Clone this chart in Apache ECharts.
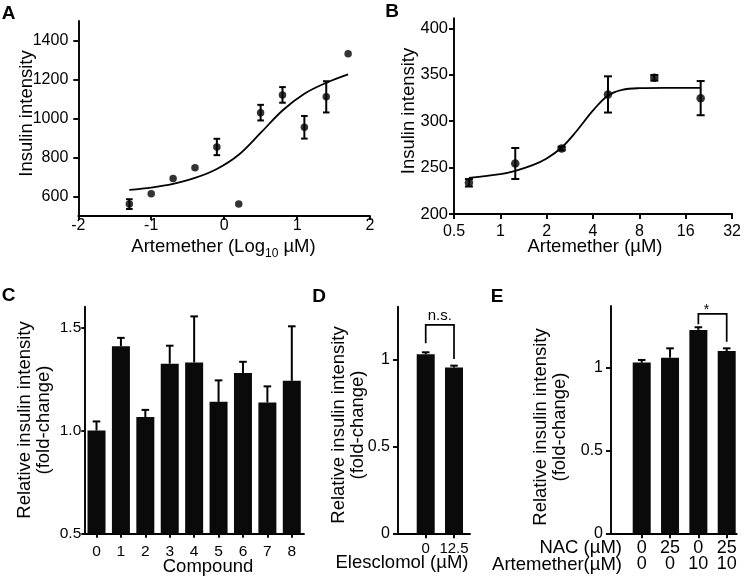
<!DOCTYPE html>
<html><head><meta charset="utf-8">
<script src="https://cdn.jsdelivr.net/npm/echarts@6/dist/echarts.min.js"></script>
<style>html,body{margin:0;padding:0;background:#fff}#c{width:744px;height:580px}</style>
</head><body><div id="c"></div>
<script>
// ---------------- data ----------------
// Panel A
const aX = [-1.3, -1.0, -0.7, -0.4, -0.1, 0.2, 0.5, 0.8, 1.1, 1.4, 1.7];
const aY = [561, 614, 692, 747, 854, 562, 1030, 1121, 955, 1111, 1332];
const aErr = [25, 0, 0, 0, 42, 0, 40, 40, 58, 80, 0];
const aFitX = [-1.3, -1.0, -0.7, -0.4, -0.1, 0.2, 0.5, 0.8, 1.1, 1.4, 1.7];
const aFitY = [634, 646, 665, 695, 741, 814, 926, 1041, 1127, 1183, 1226];
const aYTicks = [600, 800, 1000, 1200, 1400];
// Panel B
const bX = [0.625, 1.25, 2.5, 5, 10, 20];
const bY = [233.6, 254.4, 270.5, 328.8, 346.7, 324.8];
const bErr = [4, 16.7, 2, 19.5, 3, 18.4];
const bFitX = [0.625, 1, 1.25, 1.62, 2, 2.5, 3.09, 4, 5, 6.18, 8, 11.7, 20];
const bFitY = [239, 242.9, 246.5, 252.6, 259.8, 271.6, 288.3, 311.6, 327.7, 333.8, 335.5, 335.8, 335.8];
const bXTicks = [0.5, 1, 2, 4, 8, 16, 32];
const bYTicks = [200, 250, 300, 350, 400];
// Panel C
const cCats = ['0', '1', '2', '3', '4', '5', '6', '7', '8'];
const cVal = [1.00, 1.408, 1.065, 1.324, 1.33, 1.139, 1.279, 1.136, 1.241];
const cErr = [0.044, 0.041, 0.035, 0.087, 0.223, 0.104, 0.054, 0.078, 0.264];
const cYTicks = [0.5, 1.0, 1.5];
// Panel D
const dCats = ['0', '12.5'];
const dVal = [1.033, 0.956];
const dErr = [0.011, 0.011];
const dBracket = [0, 1, 1.096, 1.202, 1.006];
const dBracketLabel = 'n.s.';
// Panel E
const eNac = ['0', '25', '0', '25'];
const eArt = ['0', '0', '10', '10'];
const eVal = [1.028, 1.058, 1.225, 1.098];
const eErr = [0.016, 0.056, 0.016, 0.016];
const eBracket = [2, 3, 1.259, 1.321, 1.154];
const eBracketLabel = '*';
const yTicks01 = [0, 0.5, 1];

// ---------------- styling / helpers ----------------
const FONT = '"Liberation Sans", Arial, Helvetica, sans-serif';
const INK = '#000';
const LW = 1.9;

function axisBase(extra) {
  const base = {
    axisLine: { show: true, onZero: false, lineStyle: { color: INK, width: LW } },
    axisTick: { show: true, inside: false, length: 5, lineStyle: { color: INK, width: LW } },
    splitLine: { show: false },
    axisLabel: { color: INK, fontSize: 16, fontFamily: FONT }
  };
  for (const k in extra) {
    if (typeof extra[k] === 'object' && !Array.isArray(extra[k]) && base[k]) {
      base[k] = Object.assign({}, base[k], extra[k]);
    } else base[k] = extra[k];
  }
  return base;
}

function errBoth(capHalf) {
  return function (params, api) {
    const x = api.value(0), y = api.value(1), e = api.value(2);
    const p1 = api.coord([x, y + e]), p2 = api.coord([x, y - e]);
    const st = { stroke: INK, lineWidth: 2 };
    return { type: 'group', children: [
      { type: 'line', shape: { x1: p1[0], y1: p1[1], x2: p2[0], y2: p2[1] }, style: st },
      { type: 'line', shape: { x1: p1[0] - capHalf, y1: p1[1], x2: p1[0] + capHalf, y2: p1[1] }, style: st },
      { type: 'line', shape: { x1: p2[0] - capHalf, y1: p2[1], x2: p2[0] + capHalf, y2: p2[1] }, style: st }
    ] };
  };
}
function errUp(capHalf) {
  return function (params, api) {
    const x = api.value(0), y = api.value(1), e = api.value(2);
    const p1 = api.coord([x, y + e]), p2 = api.coord([x, y]);
    const st = { stroke: INK, lineWidth: 2 };
    return { type: 'group', children: [
      { type: 'line', shape: { x1: p1[0], y1: p1[1], x2: p2[0], y2: p2[1] }, style: st },
      { type: 'line', shape: { x1: p1[0] - capHalf, y1: p1[1], x2: p1[0] + capHalf, y2: p1[1] }, style: st }
    ] };
  };
}
function bracket(label, fontSize, dx, dy) {
  return function (params, api) {
    const x1 = api.value(0), x2 = api.value(1), yl = api.value(2), yt = api.value(3), yr = api.value(4);
    const a = api.coord([x1, yl]), b = api.coord([x1, yt]), c = api.coord([x2, yt]), d = api.coord([x2, yr]);
    return { type: 'group', children: [
      { type: 'polyline', shape: { points: [a, b, c, d] }, style: { stroke: INK, fill: null, lineWidth: 1.7 } },
      { type: 'text', x: (b[0] + c[0]) / 2 + dx, y: b[1] + dy,
        style: { text: label, fontSize: fontSize, fontFamily: FONT, fill: INK, align: 'center', verticalAlign: 'middle' } }
    ] };
  };
}
function txt(text, x, y, opts) {
  return Object.assign({ type: 'text', x: x, y: y, silent: true,
    style: Object.assign({ text: text, fontSize: 18.5, fontFamily: FONT, fill: INK, align: 'center', verticalAlign: 'middle' }, (opts && opts.style) || {}) },
    opts && opts.rotation ? { rotation: opts.rotation } : {});
}
const R90 = Math.PI / 2;
const plain = v => String(+(+v).toPrecision(6));

const option = {
  backgroundColor: '#fff',
  animation: false,
  grid: [
    { left: 78.3, top: 21, width: 291.7, height: 195 },
    { left: 454, top: 18.3, width: 280.3, height: 195.7 },
    { left: 84.3, top: 306.7, width: 219.7, height: 227 },
    { left: 398, top: 306.7, width: 72, height: 226.6 },
    { left: 611, top: 306, width: 125.7, height: 227.3 }
  ],
  xAxis: [
    axisBase({ gridIndex: 0, type: 'value', min: -2, max: 2, interval: 1,
      axisTick: { length: 4 }, axisLabel: { margin: 2, formatter: plain } }),
    axisBase({ gridIndex: 1, type: 'log', logBase: 2, min: 0.5, max: 32,
      axisTick: { customValues: bXTicks, length: 5 },
      axisLabel: { customValues: bXTicks, margin: 10, formatter: plain } }),
    axisBase({ gridIndex: 2, type: 'category', data: cCats,
      axisTick: { alignWithLabel: true, length: 4 }, axisLabel: { margin: 10, fontSize: 15.5 } }),
    axisBase({ gridIndex: 3, type: 'value', min: -0.979, max: 1.565,
      axisTick: { customValues: [0, 1], length: 5 },
      axisLabel: { customValues: [0, 1], margin: 8, fontSize: 15, formatter: v => dCats[Math.round(v)] } }),
    axisBase({ gridIndex: 4, type: 'value', min: -1.084, max: 3.353,
      axisTick: { customValues: [0, 1, 2, 3], length: 5 },
      axisLabel: { customValues: [0, 1, 2, 3], margin: 6, fontSize: 18, lineHeight: 16.5,
        formatter: v => eNac[Math.round(v)] + '\n' + eArt[Math.round(v)] } })
  ],
  yAxis: [
    axisBase({ gridIndex: 0, type: 'value', min: 500, max: 1500,
      axisTick: { customValues: aYTicks, length: 5 },
      axisLabel: { customValues: aYTicks, margin: 10, formatter: plain } }),
    axisBase({ gridIndex: 1, type: 'value', min: 200, max: 410.8,
      axisTick: { customValues: bYTicks, length: 5 },
      axisLabel: { customValues: bYTicks, margin: 6, fontSize: 16.5, formatter: plain } }),
    axisBase({ gridIndex: 2, type: 'value', min: 0.5, max: 1.6,
      axisTick: { customValues: cYTicks, length: 3 },
      axisLabel: { customValues: cYTicks, margin: 3, fontSize: 15.5, formatter: v => (+v).toFixed(1) } }),
    axisBase({ gridIndex: 3, type: 'value', min: 0, max: 1.307,
      axisTick: { customValues: yTicks01, length: 5 },
      axisLabel: { customValues: yTicks01, margin: 8, formatter: plain } }),
    axisBase({ gridIndex: 4, type: 'value', min: 0, max: 1.369,
      axisTick: { customValues: yTicks01, length: 5 },
      axisLabel: { customValues: yTicks01, margin: 8, formatter: plain } })
  ],
  series: [
    // A
    { type: 'line', xAxisIndex: 0, yAxisIndex: 0, smooth: 0.35, showSymbol: false, symbol: 'none',
      lineStyle: { color: INK, width: 1.8 }, data: aFitX.map((x, i) => [x, aFitY[i]]), z: 2 },
    { type: 'custom', xAxisIndex: 0, yAxisIndex: 0, renderItem: errBoth(3.3), encode: { x: 0, y: 1 },
      data: aX.map((x, i) => [x, aY[i], aErr[i]]).filter(d => d[2] > 0), z: 3 },
    { type: 'scatter', xAxisIndex: 0, yAxisIndex: 0, symbol: 'circle', symbolSize: 7.5,
      itemStyle: { color: INK }, data: aX.map((x, i) => [x, aY[i]]), z: 4 },
    // B
    { type: 'line', xAxisIndex: 1, yAxisIndex: 1, smooth: 0.35, showSymbol: false, symbol: 'none',
      lineStyle: { color: INK, width: 1.8 }, data: bFitX.map((x, i) => [x, bFitY[i]]), z: 2 },
    { type: 'custom', xAxisIndex: 1, yAxisIndex: 1, renderItem: errBoth(4), encode: { x: 0, y: 1 },
      data: bX.map((x, i) => [x, bY[i], bErr[i]]), z: 3 },
    { type: 'scatter', xAxisIndex: 1, yAxisIndex: 1, symbol: 'circle', symbolSize: 8.5,
      itemStyle: { color: INK }, data: bX.map((x, i) => [x, bY[i]]), z: 4 },
    // C
    { type: 'bar', xAxisIndex: 2, yAxisIndex: 2, barWidth: 18, itemStyle: { color: '#0a0a0a' }, data: cVal, z: 2 },
    { type: 'custom', xAxisIndex: 2, yAxisIndex: 2, renderItem: errUp(3.8), encode: { x: 0, y: 1 },
      data: cVal.map((v, i) => [i, v, cErr[i]]), z: 3 },
    // D
    { type: 'bar', xAxisIndex: 3, yAxisIndex: 3, barWidth: 18, itemStyle: { color: '#0a0a0a' },
      data: dVal.map((v, i) => [i, v]), z: 2 },
    { type: 'custom', xAxisIndex: 3, yAxisIndex: 3, renderItem: errUp(3.8), encode: { x: 0, y: 1 },
      data: dVal.map((v, i) => [i, v, dErr[i]]), z: 3 },
    { type: 'custom', xAxisIndex: 3, yAxisIndex: 3, renderItem: bracket(dBracketLabel, 15, 0, -9),
      encode: { x: 0, y: 3 }, data: [dBracket], z: 3 },
    // E
    { type: 'bar', xAxisIndex: 4, yAxisIndex: 4, barWidth: 18, itemStyle: { color: '#0a0a0a' },
      data: eVal.map((v, i) => [i, v]), z: 2 },
    { type: 'custom', xAxisIndex: 4, yAxisIndex: 4, renderItem: errUp(3.8), encode: { x: 0, y: 1 },
      data: eVal.map((v, i) => [i, v, eErr[i]]), z: 3 },
    { type: 'custom', xAxisIndex: 4, yAxisIndex: 4, renderItem: bracket(eBracketLabel, 14, -6, -4),
      encode: { x: 0, y: 3 }, data: [eBracket], z: 3 }
  ],
  graphic: [
    // panel letters
    txt('A', 8.5, 13.5, { style: { fontSize: 19, fontWeight: 'bold' } }),
    txt('B', 392, 12, { style: { fontSize: 19, fontWeight: 'bold' } }),
    txt('C', 8.5, 296, { style: { fontSize: 19, fontWeight: 'bold' } }),
    txt('D', 319, 297, { style: { fontSize: 19, fontWeight: 'bold' } }),
    txt('E', 497, 297, { style: { fontSize: 19, fontWeight: 'bold' } }),
    // axis titles
    txt('Insulin intensity', 27, 113.5, { rotation: R90 }),
    { type: 'text', x: 223.5, y: 247, silent: true, style: {
        text: '{n|Artemether (Log}{s|10}{n| µM)}', align: 'center', verticalAlign: 'middle',
        rich: { n: { fontSize: 18.5, fontFamily: FONT, fill: INK, lineHeight: 26 },
                s: { fontSize: 12, fontFamily: FONT, fill: INK, lineHeight: 12, verticalAlign: 'bottom' } } } },
    txt('Insulin intensity', 409, 111, { rotation: R90 }),
    txt('Artemether (µM)', 595, 247),
    txt('Relative insulin intensity\n(fold-change)', 34, 420, { rotation: R90, style: { lineHeight: 19 } }),
    txt('Compound', 208, 567),
    txt('Relative insulin intensity\n(fold-change)', 348, 425, { rotation: R90, style: { lineHeight: 19 } }),
    txt('Elesclomol (µM)', 402, 563),
    txt('Relative insulin intensity\n(fold-change)', 550, 427, { rotation: R90, style: { lineHeight: 19 } }),
    txt('NAC (µM)', 622, 548, { style: { align: 'right' } }),
    txt('Artemether(µM)', 622, 564.5, { style: { align: 'right' } })
  ]
};

const chart = echarts.init(document.getElementById('c'), null, { renderer: 'canvas' });
chart.setOption(option);
</script></body></html>
